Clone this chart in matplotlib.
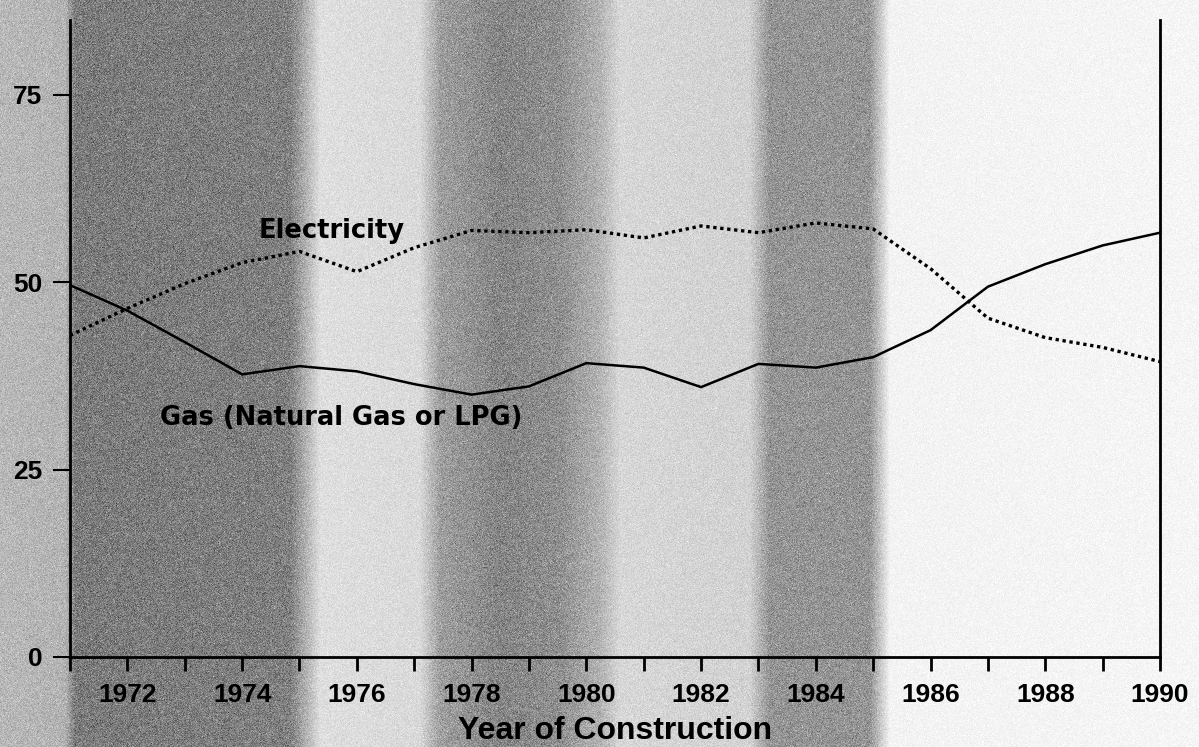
import numpy as np
import matplotlib.pyplot as plt

# share of new homes by heating fuel, by year of construction
years = [1971, 1972, 1973, 1974, 1975, 1976, 1977, 1978, 1979, 1980,
         1981, 1982, 1983, 1984, 1985, 1986, 1987, 1988, 1989, 1990]
gas = [49.6, 46.2, 42.0, 37.7, 38.8, 38.1, 36.4, 35.0, 36.1, 39.2,
       38.6, 36.0, 39.1, 38.6, 40.0, 43.6, 49.4, 52.4, 54.9, 56.6]
electricity = [42.9, 46.5, 49.8, 52.6, 54.1, 51.4, 54.6, 56.9, 56.6, 57.0,
               55.9, 57.5, 56.6, 57.9, 57.1, 51.8, 45.2, 42.6, 41.3, 39.4]

year_ticks = list(range(1972, 1991, 2))
y_ticks = [0, 25, 50, 75]

plt.rcParams['font.family'] = ['Liberation Sans', 'DejaVu Sans']
plt.rcParams['font.weight'] = 'bold'

fig = plt.figure(figsize=(11.99, 7.47), dpi=100)

# grey banding of the printed page behind the plot
bg = fig.add_axes([0, 0, 1, 1], zorder=-10)
bg.set_axis_off()
cols = np.linspace(0, 1199, 1199)
stops_x = [0, 65, 75, 290, 320, 420, 440, 500, 560, 600, 620, 750, 770, 870, 890, 1199]
stops_v = [0.72, 0.70, 0.48, 0.50, 0.87, 0.85, 0.62, 0.52, 0.56, 0.70, 0.84, 0.82, 0.58, 0.58, 0.95, 0.96]
prof = np.interp(cols, stops_x, stops_v)
rng = np.random.default_rng(3)
tex = np.clip(prof[None, :] + rng.normal(0, 0.12, (747, 1199)) * (1.1 - prof[None, :]), 0, 1)
bg.imshow(tex, cmap='gray', vmin=0, vmax=1, aspect='auto', interpolation='nearest')

ax = fig.add_axes([0.0584, 0.1205, 0.9091, 0.853])
ax.patch.set_alpha(0)
ax.plot(years, gas, color='black', lw=1.8, solid_joinstyle='round')
ax.plot(years, electricity, color='black', lw=2.4, linestyle=(0, (1, 1.1)))

ax.set_xlim(1971, 1990)
ax.set_ylim(0, 85)
ax.spines['top'].set_visible(False)
for s in ['left', 'right', 'bottom']:
    ax.spines[s].set_linewidth(2)

ax.set_xticks(range(1971, 1991))
ax.set_xticklabels([str(y) if y in year_ticks else '' for y in range(1971, 1991)])
ax.set_yticks(y_ticks)
ax.tick_params(axis='x', direction='out', length=10, width=2, labelsize=19, pad=9)
ax.tick_params(axis='y', direction='out', length=12, width=1.5, labelsize=19, pad=8)

ax.set_xlabel('Year of Construction', fontsize=23, fontweight='bold', labelpad=6)

ax.text(1974.28, 55.9, 'Electricity', fontsize=18.5, fontweight='bold',
        family='DejaVu Sans')
ax.text(1972.57, 30.9, 'Gas (Natural Gas or LPG)', fontsize=18.5, fontweight='bold',
        family='DejaVu Sans')

fig.savefig('out.png', dpi=100)
